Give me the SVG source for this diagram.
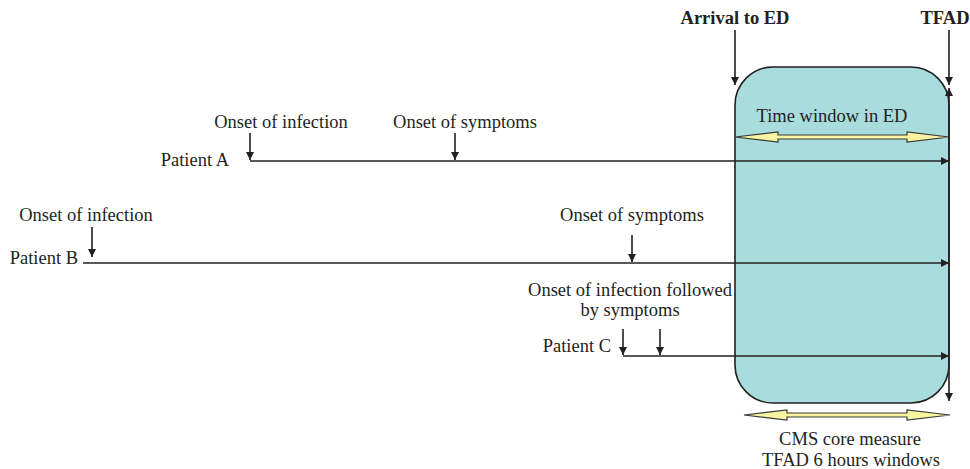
<svg xmlns="http://www.w3.org/2000/svg" width="970" height="469" viewBox="0 0 970 469" font-family="'Liberation Serif', 'Times New Roman', Tinos, 'DejaVu Serif', serif">
<style>
text{font-family:'Liberation Serif','Times New Roman',Tinos,'DejaVu Serif',serif;font-size:18.5px;fill:#231f20}
.b{font-weight:bold}
.m{text-anchor:middle}
.e{text-anchor:end}
.ln{stroke:#231f20;stroke-width:1.6;fill:none}
.ya{fill:#f8f4a0;stroke:#3a3a3a;stroke-width:1.2}
</style>
<defs>
<marker id="ah" viewBox="0 0 10 10" refX="10" refY="5" markerWidth="8" markerHeight="8" markerUnits="userSpaceOnUse" orient="auto">
<path d="M0,0 L10,5 L0,10 z" fill="#231f20"/>
</marker>
<marker id="ahs" viewBox="0 0 10 10" refX="10" refY="5" markerWidth="8" markerHeight="8" markerUnits="userSpaceOnUse" orient="auto-start-reverse">
<path d="M0,0 L10,5 L0,10 z" fill="#231f20"/>
</marker>
</defs>
<g id="ed-box">
<rect x="735" y="67" width="214" height="336" rx="38" ry="38" fill="#a9dcdc" stroke="#231f20" stroke-width="1.6"/>
<text class="m" x="832" y="122">Time window in ED</text>
<polygon class="ya" points="735,137 778,132 778,135 907,135 907,132 949,137 907,142 907,139 778,139 778,142"/>
</g>
<g id="arrival">
<text class="b m" x="735" y="24">Arrival to ED</text>
</g>
<g id="tfad">
<text class="b m" x="945" y="24">TFAD</text>
</g>
<g id="cms">
<polygon class="ya" points="744,415 787,410 787,413 907,413 907,410 950,415 907,420 907,417 787,417 787,420"/>
<text class="m" x="850" y="445">CMS core measure</text>
<text class="m" x="851" y="466">TFAD 6 hours windows</text>
</g>
<g id="patient-a">
<text class="e" x="229" y="166">Patient A</text>
<text class="m" x="281" y="128">Onset of infection</text>
<text class="m" x="465" y="128">Onset of symptoms</text>
</g>
<g id="patient-b">
<text class="e" x="78" y="264">Patient B</text>
<text class="m" x="86" y="221">Onset of infection</text>
<text class="m" x="632" y="221">Onset of symptoms</text>
</g>
<g id="patient-c">
<text class="e" x="611" y="352">Patient C</text>
<text class="m" x="630" y="296">Onset of infection followed</text>
<text class="m" x="630" y="316">by symptoms</text>
</g>
<g id="connectors">
<line class="ln" x1="735" y1="30" x2="735" y2="85" marker-end="url(#ah)"/>
<line class="ln" x1="949" y1="30" x2="949" y2="85" marker-end="url(#ah)"/>
<line class="ln" x1="949" y1="88" x2="949" y2="401" marker-start="url(#ahs)" marker-end="url(#ah)"/>
<line class="ln" x1="250" y1="161" x2="949" y2="161" marker-end="url(#ah)"/>
<line class="ln" x1="250" y1="133" x2="250" y2="160" marker-end="url(#ah)"/>
<line class="ln" x1="455" y1="133" x2="455" y2="160" marker-end="url(#ah)"/>
<line class="ln" x1="83" y1="263" x2="949" y2="263" marker-end="url(#ah)"/>
<line class="ln" x1="92" y1="227" x2="92" y2="257" marker-end="url(#ah)"/>
<line class="ln" x1="632" y1="235" x2="632" y2="262" marker-end="url(#ah)"/>
<line class="ln" x1="623" y1="356" x2="949" y2="356" marker-end="url(#ah)"/>
<line class="ln" x1="623" y1="329" x2="623" y2="355" marker-end="url(#ah)"/>
<line class="ln" x1="660" y1="329" x2="660" y2="355" marker-end="url(#ah)"/>
</g>
</svg>
